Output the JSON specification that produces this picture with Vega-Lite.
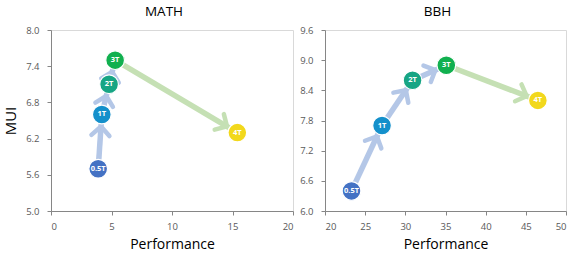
{
  "$schema": "https://vega.github.io/schema/vega-lite/v6.json",
  "padding": {"left": 3, "top": 4, "right": 5, "bottom": 2},
  "spacing": 5,
  "config": {
    "font": "Open Sans",
    "view": {"stroke": "#d9d9d9", "strokeWidth": 1},
    "axis": {
      "grid": false,
      "domainColor": "#868686",
      "tickColor": "#868686",
      "tickSize": 4,
      "labelColor": "#595959",
      "labelFontSize": 9.5,
      "labelFont": "Open Sans",
      "labelOverlap": false,
      "titleFont": "Open Sans",
      "titleFontWeight": "normal",
      "titleColor": "#000000",
      "titleFontSize": 14
    },
    "title": {"font": "Open Sans", "fontSize": 13.5, "fontWeight": "normal", "color": "#000000", "offset": 7, "dx": -8}
  },
  "datasets": {
    "pts": [
      {"panel": "MATH", "step": "0.5T", "perf": 3.9, "mui": 5.7},
      {"panel": "MATH", "step": "1T", "perf": 4.2, "mui": 6.6},
      {"panel": "MATH", "step": "2T", "perf": 4.8, "mui": 7.1},
      {"panel": "MATH", "step": "3T", "perf": 5.3, "mui": 7.5},
      {"panel": "MATH", "step": "4T", "perf": 15.4, "mui": 6.3},
      {"panel": "BBH", "step": "0.5T", "perf": 23.3, "mui": 6.4},
      {"panel": "BBH", "step": "1T", "perf": 27.1, "mui": 7.7},
      {"panel": "BBH", "step": "2T", "perf": 30.9, "mui": 8.6},
      {"panel": "BBH", "step": "3T", "perf": 35.1, "mui": 8.9},
      {"panel": "BBH", "step": "4T", "perf": 46.5, "mui": 8.2}
    ],
    "segs": [
      {"panel": "MATH", "kind": "rise", "perf": 3.9, "mui": 5.7, "perf2": 4.2, "mui2": 6.6},
      {"panel": "MATH", "kind": "rise", "perf": 4.2, "mui": 6.6, "perf2": 4.8, "mui2": 7.1},
      {"panel": "MATH", "kind": "rise", "perf": 4.8, "mui": 7.1, "perf2": 5.3, "mui2": 7.5},
      {"panel": "MATH", "kind": "fall", "perf": 5.3, "mui": 7.5, "perf2": 15.4, "mui2": 6.3},
      {"panel": "BBH", "kind": "rise", "perf": 23.3, "mui": 6.4, "perf2": 27.1, "mui2": 7.7},
      {"panel": "BBH", "kind": "rise", "perf": 27.1, "mui": 7.7, "perf2": 30.9, "mui2": 8.6},
      {"panel": "BBH", "kind": "rise", "perf": 30.9, "mui": 8.6, "perf2": 35.1, "mui2": 8.9},
      {"panel": "BBH", "kind": "fall", "perf": 35.1, "mui": 8.9, "perf2": 46.5, "mui2": 8.2}
    ]
  },
  "hconcat": [
    {
      "width": 242,
      "height": 181,
      "title": "MATH",
      "layer": [
        {
          "data": {"name": "segs"},
          "transform": [{"filter": "datum.panel === 'MATH'"}],
          "mark": {"type": "rule", "strokeWidth": 5.5},
          "encoding": {
            "x": {"field": "perf", "type": "quantitative", "scale": {"domain": [0, 20], "nice": false}, "axis": {"values": [0, 5, 10, 15, 20], "tickCount": 20, "title": "Performance", "titlePadding": 7, "labelPadding": 6, "labelOverlap": false}},
            "y": {"field": "mui", "type": "quantitative", "scale": {"domain": [5, 8], "nice": false}, "axis": {"values": [5, 5.6, 6.2, 6.8, 7.4, 8], "tickCount": 20, "format": ".1f", "title": "MUI", "titleFontSize": 15, "titlePadding": 7, "labelPadding": 8, "labelOverlap": false}},
            "x2": {"field": "perf2"},
            "y2": {"field": "mui2"},
            "color": {"field": "kind", "type": "nominal", "scale": {"domain": ["rise", "fall"], "range": ["#b4c7e7", "#c5e0b4"]}, "legend": null}
          }
        },
        {
          "data": {"name": "segs"},
          "transform": [
            {"filter": "datum.panel === 'MATH'"},
            {"calculate": "atan2((datum.perf2 - datum.perf) * 12.1, (datum.mui2 - datum.mui) * 60.33) * 180 / PI", "as": "ang"}
          ],
          "mark": {"type": "point", "filled": false, "strokeWidth": 4.5, "opacity": 1, "shape": "M-0.45,1.05L0,0.6L0.45,1.05", "size": 1600, "strokeCap": "round"},
          "encoding": {
            "x": {"field": "perf2", "type": "quantitative"},
            "y": {"field": "mui2", "type": "quantitative"},
            "angle": {"field": "ang", "type": "quantitative", "scale": null},
            "color": {"field": "kind", "type": "nominal", "scale": {"domain": ["rise", "fall"], "range": ["#b4c7e7", "#c5e0b4"]}, "legend": null}
          }
        },
        {
          "data": {"name": "pts"},
          "transform": [{"filter": "datum.panel === 'MATH'"}],
          "mark": {"type": "circle", "size": 350, "opacity": 1, "stroke": "#ffffff", "strokeWidth": 1.2},
          "encoding": {
            "x": {"field": "perf", "type": "quantitative"},
            "y": {"field": "mui", "type": "quantitative"},
            "fill": {"field": "step", "type": "nominal", "scale": {"domain": ["0.5T", "1T", "2T", "3T", "4T"], "range": ["#4472c4", "#1490cb", "#17a584", "#11b04f", "#f2d81c"]}, "legend": null}
          }
        },
        {
          "data": {"name": "pts"},
          "transform": [{"filter": "datum.panel === 'MATH'"}],
          "mark": {"type": "text", "color": "#ffffff", "fontSize": 7.5, "fontWeight": "bold", "font": "Open Sans"},
          "encoding": {
            "x": {"field": "perf", "type": "quantitative"},
            "y": {"field": "mui", "type": "quantitative"},
            "text": {"field": "step"}
          }
        }
      ]
    },
    {
      "width": 241,
      "height": 181,
      "title": "BBH",
      "layer": [
        {
          "data": {"name": "segs"},
          "transform": [{"filter": "datum.panel === 'BBH'"}],
          "mark": {"type": "rule", "strokeWidth": 5.5},
          "encoding": {
            "x": {"field": "perf", "type": "quantitative", "scale": {"domain": [20, 50], "nice": false}, "axis": {"values": [20, 25, 30, 35, 40, 45, 50], "tickCount": 20, "title": "Performance", "titlePadding": 7, "labelPadding": 6, "labelOverlap": false}},
            "y": {"field": "mui", "type": "quantitative", "scale": {"domain": [6, 9.6], "nice": false}, "axis": {"values": [6, 6.6, 7.2, 7.8, 8.4, 9, 9.6], "tickCount": 20, "format": ".1f", "title": null, "labelPadding": 8, "labelOverlap": false}},
            "x2": {"field": "perf2"},
            "y2": {"field": "mui2"},
            "color": {"field": "kind", "type": "nominal", "scale": {"domain": ["rise", "fall"], "range": ["#b4c7e7", "#c5e0b4"]}, "legend": null}
          }
        },
        {
          "data": {"name": "segs"},
          "transform": [
            {"filter": "datum.panel === 'BBH'"},
            {"calculate": "atan2((datum.perf2 - datum.perf) * 8.03, (datum.mui2 - datum.mui) * 50.28) * 180 / PI", "as": "ang"}
          ],
          "mark": {"type": "point", "filled": false, "strokeWidth": 4.5, "opacity": 1, "shape": "M-0.45,1.05L0,0.6L0.45,1.05", "size": 1600, "strokeCap": "round"},
          "encoding": {
            "x": {"field": "perf2", "type": "quantitative"},
            "y": {"field": "mui2", "type": "quantitative"},
            "angle": {"field": "ang", "type": "quantitative", "scale": null},
            "color": {"field": "kind", "type": "nominal", "scale": {"domain": ["rise", "fall"], "range": ["#b4c7e7", "#c5e0b4"]}, "legend": null}
          }
        },
        {
          "data": {"name": "pts"},
          "transform": [{"filter": "datum.panel === 'BBH'"}],
          "mark": {"type": "circle", "size": 350, "opacity": 1, "stroke": "#ffffff", "strokeWidth": 1.2},
          "encoding": {
            "x": {"field": "perf", "type": "quantitative"},
            "y": {"field": "mui", "type": "quantitative"},
            "fill": {"field": "step", "type": "nominal", "scale": {"domain": ["0.5T", "1T", "2T", "3T", "4T"], "range": ["#4472c4", "#1490cb", "#17a584", "#11b04f", "#f2d81c"]}, "legend": null}
          }
        },
        {
          "data": {"name": "pts"},
          "transform": [{"filter": "datum.panel === 'BBH'"}],
          "mark": {"type": "text", "color": "#ffffff", "fontSize": 7.5, "fontWeight": "bold", "font": "Open Sans"},
          "encoding": {
            "x": {"field": "perf", "type": "quantitative"},
            "y": {"field": "mui", "type": "quantitative"},
            "text": {"field": "step"}
          }
        }
      ]
    }
  ]
}
